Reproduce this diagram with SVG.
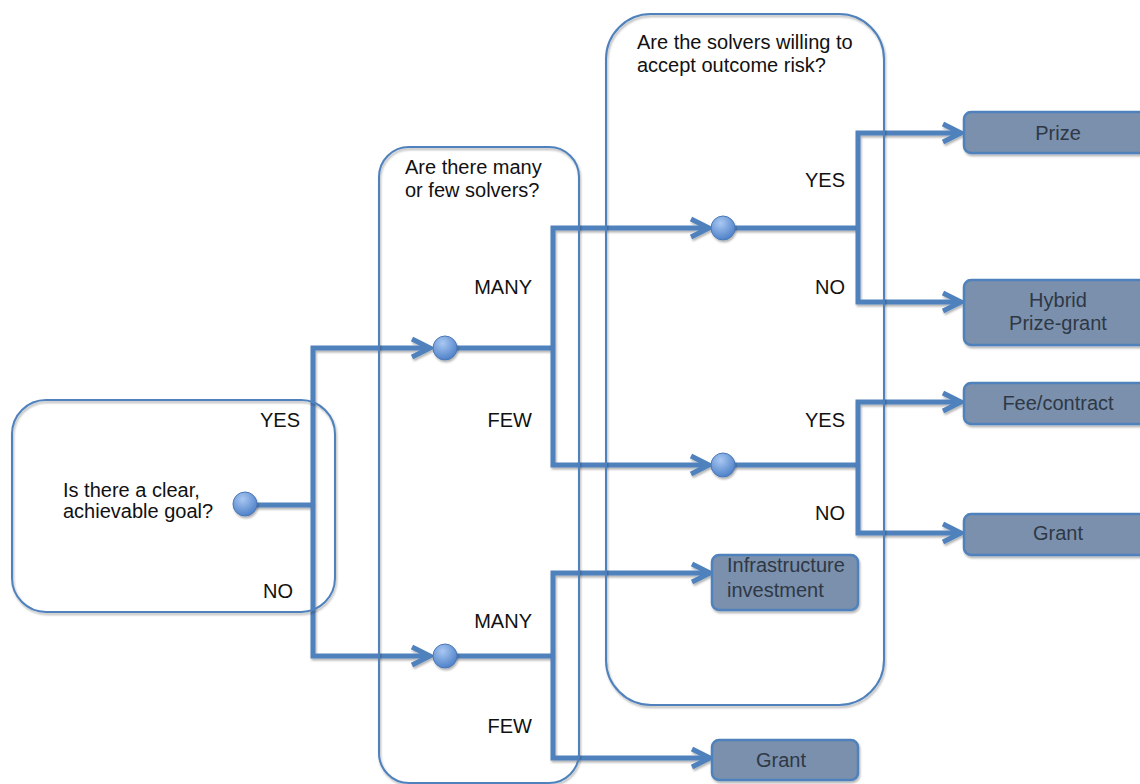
<svg xmlns="http://www.w3.org/2000/svg" width="1140" height="784" viewBox="0 0 1140 784">
<style>
.frame{fill:none;stroke:#4f81bd;stroke-width:2;filter:url(#sh)}
.conn{fill:none;stroke:#4f81bd;stroke-width:5;stroke-linejoin:miter;filter:url(#sh)}
.head{fill:none;stroke:#4f81bd;stroke-width:5;stroke-linecap:butt;stroke-linejoin:miter}
.dot{fill:url(#dg);stroke:#4a78b6;stroke-width:1;filter:url(#sh)}
.box{fill:#7a90ad;stroke:#4f81bd;stroke-width:2.5;filter:url(#sh)}
.t{font-family:"Liberation Sans",Arial,sans-serif;font-size:20px;fill:#111}
.bt{font-family:"Liberation Sans",Arial,sans-serif;font-size:20px;fill:#2f3845;text-anchor:middle}
.r{text-anchor:end}
</style>
<defs>
<filter id="sh" filterUnits="userSpaceOnUse" x="0" y="0" width="1140" height="784">
<feDropShadow dx="1" dy="2" stdDeviation="1.2" flood-color="#000" flood-opacity="0.3"/>
</filter>
<radialGradient id="dg" cx="40%" cy="30%" r="70%">
<stop offset="0" stop-color="#a9c8f2"/>
<stop offset="1" stop-color="#4f81c9"/>
</radialGradient>
<marker id="ah" markerUnits="userSpaceOnUse" markerWidth="24" markerHeight="24" viewBox="0 0 24 24" refX="20" refY="12" orient="auto">
<path d="M2,3 L20,12 L2,21" class="head"/>
</marker>
</defs>

<g id="connectors">
<path class="conn" d="M245,505 H313"/>
<path class="conn" d="M313,505 V348 H430" marker-end="url(#ah)"/>
<path class="conn" d="M313,505 V656 H430" marker-end="url(#ah)"/>
<path class="conn" d="M445,348 H553"/>
<path class="conn" d="M553,348 V228 H709" marker-end="url(#ah)"/>
<path class="conn" d="M553,348 V465 H709" marker-end="url(#ah)"/>
<path class="conn" d="M445,656 H553"/>
<path class="conn" d="M553,656 V573 H710" marker-end="url(#ah)"/>
<path class="conn" d="M553,656 V758 H710" marker-end="url(#ah)"/>
<path class="conn" d="M723,228 H858"/>
<path class="conn" d="M858,228 V133 H961" marker-end="url(#ah)"/>
<path class="conn" d="M858,228 V302 H961" marker-end="url(#ah)"/>
<path class="conn" d="M723,465 H858"/>
<path class="conn" d="M858,465 V402 H961" marker-end="url(#ah)"/>
<path class="conn" d="M858,465 V533 H961" marker-end="url(#ah)"/>
</g>

<g id="q1">
<rect class="frame" x="12" y="400" width="323" height="212" rx="34" ry="34"/>
<text class="t" x="63" y="497">Is there a clear,</text>
<text class="t" x="63" y="518">achievable goal?</text>
<text class="t r" x="300" y="427">YES</text>
<text class="t r" x="293" y="598">NO</text>
<circle class="dot" cx="245" cy="504" r="12"/>
</g>

<g id="q2">
<rect class="frame" x="379" y="147" width="200" height="636" rx="30" ry="30"/>
<text class="t" x="405" y="174">Are there many</text>
<text class="t" x="405" y="197">or few solvers?</text>
<text class="t r" x="532" y="294">MANY</text>
<text class="t r" x="532" y="427">FEW</text>
<text class="t r" x="532" y="628">MANY</text>
<text class="t r" x="532" y="733">FEW</text>
<circle class="dot" cx="445" cy="348" r="12"/>
<circle class="dot" cx="445" cy="656" r="12"/>
</g>

<g id="q3">
<rect class="frame" x="606" y="14" width="278" height="691" rx="45" ry="45"/>
<text class="t" x="637" y="49">Are the solvers willing to</text>
<text class="t" x="637" y="72">accept outcome risk?</text>
<text class="t r" x="845" y="187">YES</text>
<text class="t r" x="845" y="294">NO</text>
<text class="t r" x="845" y="427">YES</text>
<text class="t r" x="845" y="520">NO</text>
<circle class="dot" cx="723" cy="228" r="12"/>
<circle class="dot" cx="723" cy="465" r="12"/>
</g>

<g id="prize">
<rect class="box" x="964" y="112" width="190" height="41" rx="7"/>
<text class="bt" x="1058" y="140">Prize</text>
</g>
<g id="hybrid">
<rect class="box" x="964" y="280" width="190" height="65" rx="7"/>
<text class="bt" x="1058" y="307">Hybrid</text>
<text class="bt" x="1058" y="330">Prize-grant</text>
</g>
<g id="fee">
<rect class="box" x="964" y="383" width="190" height="41" rx="7"/>
<text class="bt" x="1058" y="410">Fee/contract</text>
</g>
<g id="grant1">
<rect class="box" x="964" y="514" width="190" height="41" rx="7"/>
<text class="bt" x="1058" y="540">Grant</text>
</g>
<g id="infra">
<rect class="box" x="712" y="555" width="146" height="55" rx="7"/>
<text class="t" style="fill:#2f3845" x="727" y="572">Infrastructure</text>
<text class="t" style="fill:#2f3845" x="727" y="597">investment</text>
</g>
<g id="grant2">
<rect class="box" x="712" y="740" width="146" height="40" rx="7"/>
<text class="bt" x="781" y="767">Grant</text>
</g>
</svg>
